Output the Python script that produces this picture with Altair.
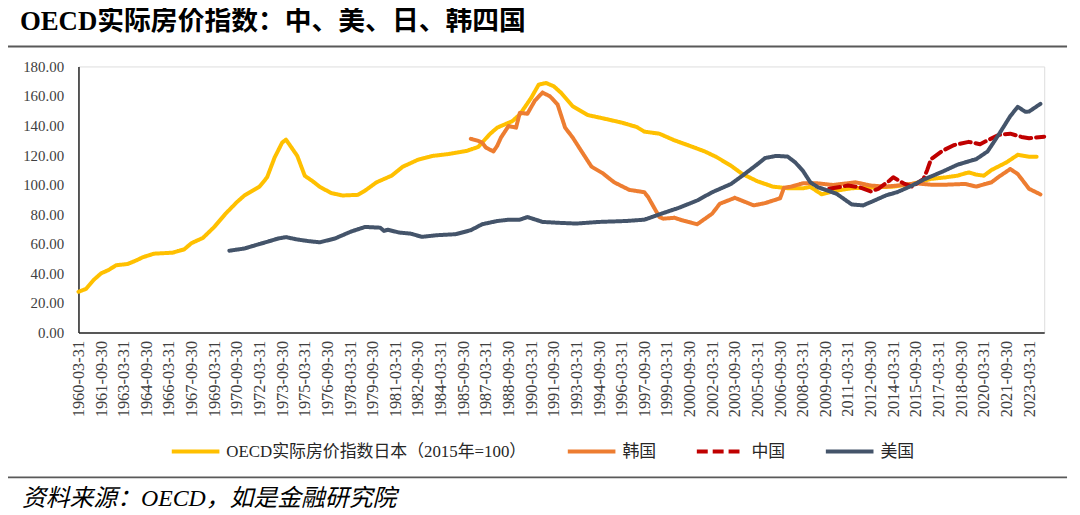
import altair as alt
import pandas as pd

# ---------------- data ----------------
jp_dates = ["1960-03-31","1960-09-30","1961-03-31","1961-09-30","1962-03-31","1962-09-30","1963-06-30","1963-12-31",
            "1964-06-30","1965-03-31","1966-06-30","1967-03-31","1967-09-30","1968-06-30","1969-03-31","1969-12-31",
            "1970-09-30","1971-03-31","1972-03-31","1972-09-30","1973-03-31","1973-09-30","1973-12-31","1974-09-30",
            "1975-03-31","1975-09-30","1976-03-31","1976-12-31","1977-09-30","1978-09-30","1979-03-31","1979-12-31",
            "1980-12-31","1981-09-30","1982-09-30","1983-09-30","1984-09-30","1985-12-31","1986-09-30","1987-06-30",
            "1987-12-31","1988-12-31","1989-06-30","1990-03-31","1990-09-30","1991-03-31","1991-09-30","1992-03-31",
            "1992-12-31","1993-12-31","1994-12-31","1996-03-31","1997-03-31","1997-09-30","1998-09-30","1999-09-30",
            "2000-09-30","2001-09-30","2002-06-30","2003-06-30","2004-03-31","2005-03-31","2006-03-31","2007-03-31",
            "2008-03-31","2008-09-30","2009-06-30","2010-06-30","2011-06-30","2012-09-30","2014-03-31","2015-06-30",
            "2016-09-30","2017-09-30","2018-06-30","2019-03-31","2019-09-30","2020-03-31","2020-09-30","2021-09-30",
            "2022-06-30","2023-03-31","2023-09-30"]
jp_values = [27.5, 29.5, 35.5, 40.0, 42.3, 45.5, 46.3, 48.4,
             50.8, 53.3, 54.0, 56.2, 60.5, 64.0, 71.4, 80.4,
             88.2, 92.7, 98.7, 105.0, 118.4, 128.5, 130.5, 119.5,
             106.0, 102.5, 98.5, 94.3, 92.7, 93.1, 96.0, 101.6,
             106.1, 112.2, 116.9, 119.5, 120.7, 122.9, 125.6, 134.1,
             138.6, 143.0, 147.5, 158.7, 167.7, 168.8, 166.6, 162.0,
             153.1, 147.1, 144.9, 142.0, 139.0, 135.9, 134.5, 130.0,
             126.3, 122.5, 118.9, 112.8, 107.2, 102.3, 98.7, 97.6,
             97.5, 98.5, 93.5, 96.0, 97.6, 98.0, 98.7, 100.5,
             103.9, 105.0, 106.1, 108.3, 106.8, 106.1, 109.9, 115.1,
             120.2, 118.9, 118.9]

kr_dates = ["1986-03-31","1986-09-30","1986-12-31","1987-03-31","1987-09-30","1987-12-31","1988-03-31","1988-09-30",
            "1989-03-31","1989-06-30","1989-12-31","1990-06-30","1990-12-31","1991-06-30","1991-12-31","1992-06-30",
            "1992-12-31","1993-06-30","1994-03-31","1994-12-31","1995-09-30","1996-09-30","1997-09-30","1997-12-31",
            "1998-09-30","1998-12-31","1999-09-30","2000-03-31","2001-03-31","2002-03-31","2002-09-30","2003-09-30",
            "2004-12-31","2005-09-30","2006-09-30","2006-12-31","2007-06-30","2008-03-31","2009-03-31","2010-03-31",
            "2011-09-30","2012-09-30","2013-09-30","2014-06-30","2015-09-30","2016-09-30","2017-09-30","2018-12-31",
            "2019-09-30","2020-09-30","2021-03-31","2021-12-31","2022-06-30","2023-03-31","2023-12-31"]
kr_values = [131.0, 129.6, 128.5, 125.1, 122.5, 126.3, 131.9, 139.7,
             138.6, 148.6, 148.0, 156.9, 162.3, 159.8, 154.3, 138.6,
             131.9, 124.0, 112.2, 107.7, 101.6, 96.5, 94.9, 91.6,
             78.1, 77.0, 77.6, 75.9, 73.2, 80.4, 87.1, 91.1,
             86.0, 87.5, 90.8, 97.9, 98.7, 100.9, 100.9, 99.8,
             101.6, 99.4, 98.7, 99.4, 100.9, 100.0, 100.0, 100.5,
             98.7, 101.6, 105.4, 110.6, 107.2, 97.2, 93.4]

cn_dates = ["2009-12-31","2011-03-31","2011-12-31","2012-09-30","2013-03-31","2013-12-31","2014-03-31","2014-12-31",
            "2015-06-30","2016-03-31","2016-06-30","2016-09-30","2017-06-30","2018-03-31","2019-03-31","2019-12-31",
            "2020-06-30","2021-03-31","2021-12-31","2022-09-30","2023-03-31","2024-03-31"]
cn_values = [97.2, 99.4, 98.3, 95.4, 97.2, 102.8, 105.0, 100.5,
             98.7, 103.9, 110.0, 117.3, 122.9, 126.7, 129.0, 127.4,
             130.0, 133.7, 134.5, 132.3, 131.4, 132.5]

us_dates = ["1970-03-31","1971-03-31","1971-12-31","1972-09-30","1973-06-30","1973-12-31","1974-09-30","1975-06-30",
            "1976-03-31","1977-03-31","1978-03-31","1979-03-31","1980-03-31","1980-06-30","1980-09-30","1981-06-30",
            "1982-03-31","1982-12-31","1983-12-31","1985-03-31","1986-03-31","1986-12-31","1987-12-31","1988-09-30",
            "1989-06-30","1989-12-31","1990-12-31","1992-03-31","1993-03-31","1994-09-30","1996-06-30","1997-09-30",
            "1998-09-30","1999-12-31","2001-03-31","2002-03-31","2003-06-30","2004-03-31","2005-03-31","2005-09-30",
            "2006-06-30","2007-03-31","2007-09-30","2008-03-31","2008-09-30","2009-03-31","2010-06-30","2011-06-30",
            "2012-03-31","2012-12-31","2013-09-30","2014-06-30","2015-06-30","2016-03-31","2017-06-30","2018-06-30",
            "2019-09-30","2020-06-30","2021-03-31","2021-12-31","2022-06-30","2022-12-31","2023-03-31","2023-12-31"]
us_values = [55.3, 56.8, 59.1, 61.3, 63.6, 64.5, 62.9, 61.8,
             61.0, 63.6, 68.0, 71.4, 70.9, 68.7, 69.5, 67.6,
             66.9, 64.7, 65.8, 66.5, 69.2, 73.2, 75.4, 76.3,
             76.3, 78.1, 74.8, 74.1, 73.7, 74.8, 75.4, 76.3,
             79.9, 84.2, 89.3, 94.9, 100.5, 106.1, 113.9, 118.0,
             119.5, 119.0, 115.1, 109.5, 101.6, 98.3, 93.8, 86.6,
             86.0, 89.3, 92.7, 94.9, 99.4, 103.4, 108.8, 113.5,
             117.3, 122.5, 134.1, 146.4, 152.7, 149.3, 149.5, 154.7]

series_names = ["OECD实际房价指数日本（2015年=100）", "韩国", "中国", "美国"]
series_colors = ["#FFC000", "#ED7D31", "#C00000", "#44546A"]
series_dash = [[1, 0], [1, 0], [11, 5], [1, 0]]

x_ticks = ["1960-03-31","1961-09-30","1963-03-31","1964-09-30","1966-03-31","1967-09-30","1969-03-31","1970-09-30",
           "1972-03-31","1973-09-30","1975-03-31","1976-09-30","1978-03-31","1979-09-30","1981-03-31","1982-09-30",
           "1984-03-31","1985-09-30","1987-03-31","1988-09-30","1990-03-31","1991-09-30","1993-03-31","1994-09-30",
           "1996-03-31","1997-09-30","1999-03-31","2000-09-30","2002-03-31","2003-09-30","2005-03-31","2006-09-30",
           "2008-03-31","2009-09-30","2011-03-31","2012-09-30","2014-03-31","2015-09-30","2017-03-31","2018-09-30",
           "2020-03-31","2021-09-30","2023-03-31"]
x_domain = ["1960-03-31", "2024-03-31"]
y_ticks = [0, 20, 40, 60, 80, 100, 120, 140, 160, 180]

title_text = "OECD实际房价指数：中、美、日、韩四国"
source_text = "资料来源：OECD，如是金融研究院"

# ---------------- build table ----------------
rows = []
for name, dates, vals in zip(series_names,
                             [jp_dates, kr_dates, cn_dates, us_dates],
                             [jp_values, kr_values, cn_values, us_values]):
    for d, v in zip(dates, vals):
        rows.append({"series": name, "date": d, "value": v})
df = pd.DataFrame(rows)

def to_ms(s):
    return int(pd.Timestamp(s).value // 10**6)

tick_ms = [to_ms(s) for s in x_ticks]
dom_ms = [to_ms(s) for s in x_domain]

W, H = 973, 268
SERIF = "'Liberation Serif', 'Noto Sans CJK SC'"

lines = alt.Chart(df).mark_line(strokeWidth=4, strokeCap="round", strokeJoin="round").encode(
    x=alt.X("date:T",
            scale=alt.Scale(type="utc", domain=dom_ms, nice=False),
            axis=alt.Axis(values=tick_ms, labelExpr="utcFormat(datum.value, '%Y-%m-%d')", labelAngle=270,
                          title=None, grid=False, ticks=False, tickSize=0, labelPadding=8,
                          labelFont="Liberation Serif", labelFontSize=16.5, labelColor="#404040",
                          domainColor="#262626", domainWidth=1.5, labelOverlap=False, labelFlush=False)),
    y=alt.Y("value:Q",
            scale=alt.Scale(domain=[0, 180], nice=False),
            axis=alt.Axis(values=y_ticks, format=".2f", title=None, grid=False, ticks=False, tickSize=0,
                          labelPadding=15, labelFont="Liberation Serif", labelFontSize=15,
                          labelColor="#404040", domainColor="#262626", domainWidth=1.5)),
    color=alt.Color("series:N",
                    scale=alt.Scale(domain=series_names, range=series_colors),
                    sort=series_names,
                    legend=alt.Legend(title=None, orient="none", legendX=92, legendY=362, padding=0,
                                      direction="horizontal", symbolType="stroke", symbolSize=2304,
                                      symbolStrokeWidth=4, labelFont=SERIF, labelFontSize=17,
                                      labelColor="#262626", labelOffset=5, columnPadding=33,
                                      labelLimit=500,
                                      labelExpr="indexof(datum.label, 'OECD') >= 0 ? datum.label + '\u3000' : datum.label")),
    strokeDash=alt.StrokeDash("series:N",
                              scale=alt.Scale(domain=series_names, range=series_dash),
                              sort=series_names, legend=None),
    order=alt.Order("date:T"),
)

title_mark = alt.Chart(pd.DataFrame({"t": [title_text]})).mark_text(
    align="left", baseline="middle", font=SERIF, fontSize=27, fontWeight="bold", color="#000000"
).encode(text="t:N", x=alt.value(-59), y=alt.value(-45))

source_mark = alt.Chart(pd.DataFrame({"t": [source_text]})).mark_text(
    align="left", baseline="middle", font=SERIF, fontSize=24, fontStyle="italic", color="#000000"
).encode(text="t:N", x=alt.value(-57), y=alt.value(436))

rule_top = alt.Chart(pd.DataFrame({"k": [0]})).mark_rule(color="#595959", strokeWidth=2).encode(
    x=alt.value(-74), x2=alt.value(996), y=alt.value(-20))
rule_bot = alt.Chart(pd.DataFrame({"k": [0]})).mark_rule(color="#595959", strokeWidth=2).encode(
    x=alt.value(-74), x2=alt.value(996), y=alt.value(414))

chart = alt.layer(lines, title_mark, source_mark, rule_top, rule_bot).properties(
    width=W, height=H,
    autosize=alt.AutoSizeParams(type="none"),
    padding={"left": 71, "top": 57, "right": 28, "bottom": 180},
).configure_view(stroke=None).configure(background="white")

chart.save("out.html", embed_options={"renderer": "svg", "actions": False})
